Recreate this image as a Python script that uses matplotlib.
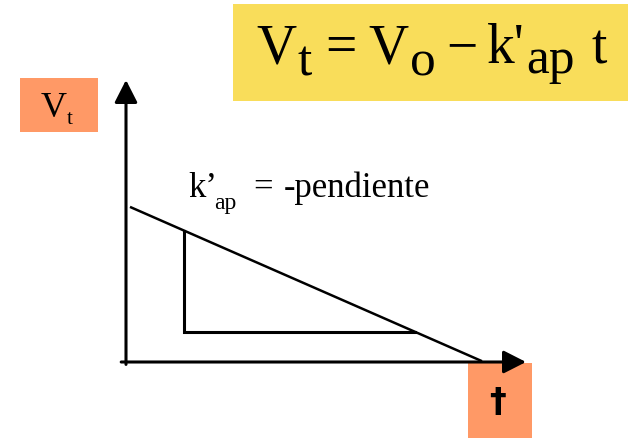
import matplotlib
matplotlib.use("Agg")
import matplotlib.pyplot as plt
from matplotlib.patches import Rectangle

# chart values (t on x, V on y), in axis units
t_max, v_max = 10, 7
line_t = [0.1, 8.9]
line_v = [3.85, 0.02]
tri_t = [1.45, 1.45, 7.22]
tri_v = [3.26, 0.75, 0.75]

W, H = 630, 439
fig = plt.figure(figsize=(W / 100, H / 100), dpi=100)

# decoration layer in pixel coords (boxes and labels)
deco = fig.add_axes([0, 0, 1, 1])
deco.set_xlim(0, W)
deco.set_ylim(H, 0)
deco.axis("off")

serif = "Liberation Serif"
yellow = "#F9DD5A"
orange = "#FF9966"

deco.add_patch(Rectangle((233, 5), 395, 97, facecolor=yellow, edgecolor="none"))
deco.add_patch(Rectangle((20, 79), 78, 54, facecolor=orange, edgecolor="none"))
deco.add_patch(Rectangle((468, 364), 64, 75, facecolor=orange, edgecolor="none"))

# equation, piece by piece
eq = [("V", 256, 63, 40), ("t", 298, 76, 37), ("=", 325, 63, 40),
      ("V", 368, 63, 40), ("o", 410, 75, 37), ("\u2212", 446, 63, 40),
      ("k'", 487, 63, 40), ("ap", 526, 73, 37), ("t", 592, 63, 40)]
for s, x, y, fs in eq:
    deco.text(x, y, s, fontsize=fs, family=serif, ha="left", va="baseline")

# y label box
deco.text(41, 117, "V", fontsize=26, family=serif, ha="left", va="baseline")
deco.text(67, 124, "t", fontsize=15, family=serif, ha="left", va="baseline")

# x label box
deco.text(498, 403, "\u2020", fontsize=24, family="DejaVu Sans", fontweight="bold",
          ha="center", va="center")

# slope label
lab = [("k\u2019", 188, 197, 25), ("ap", 214, 209, 17), ("=", 253, 197, 25),
       ("-pendiente", 284, 197, 25)]
for s, x, y, fs in lab:
    deco.text(x, y, s, fontsize=fs, family=serif, ha="left", va="baseline")

# chart axes
x0, x1, y0, y1 = 126, 526, 363, 81
ax = fig.add_axes([x0 / W, (H - y0) / H, (x1 - x0) / W, (y0 - y1) / H])
ax.set_xlim(0, t_max)
ax.set_ylim(0, v_max)
ax.patch.set_visible(False)
for sp in ax.spines.values():
    sp.set_visible(False)
ax.set_xticks([])
ax.set_yticks([])

arrow = dict(arrowstyle="-|>,head_length=0.55,head_width=0.28", lw=2.2,
             color="black", shrinkA=0, shrinkB=0, mutation_scale=25)
ax.annotate("", xy=(t_max, 0), xytext=(-0.12, 0), arrowprops=arrow,
            annotation_clip=False)
ax.annotate("", xy=(0, v_max), xytext=(0, -0.06), arrowprops=arrow,
            annotation_clip=False)

ax.plot(line_t, line_v, color="black", lw=1.8, solid_capstyle="butt", clip_on=False)
ax.plot(tri_t, tri_v, color="black", lw=2.2, solid_joinstyle="miter", clip_on=False)

fig.savefig("out.png", dpi=100)
